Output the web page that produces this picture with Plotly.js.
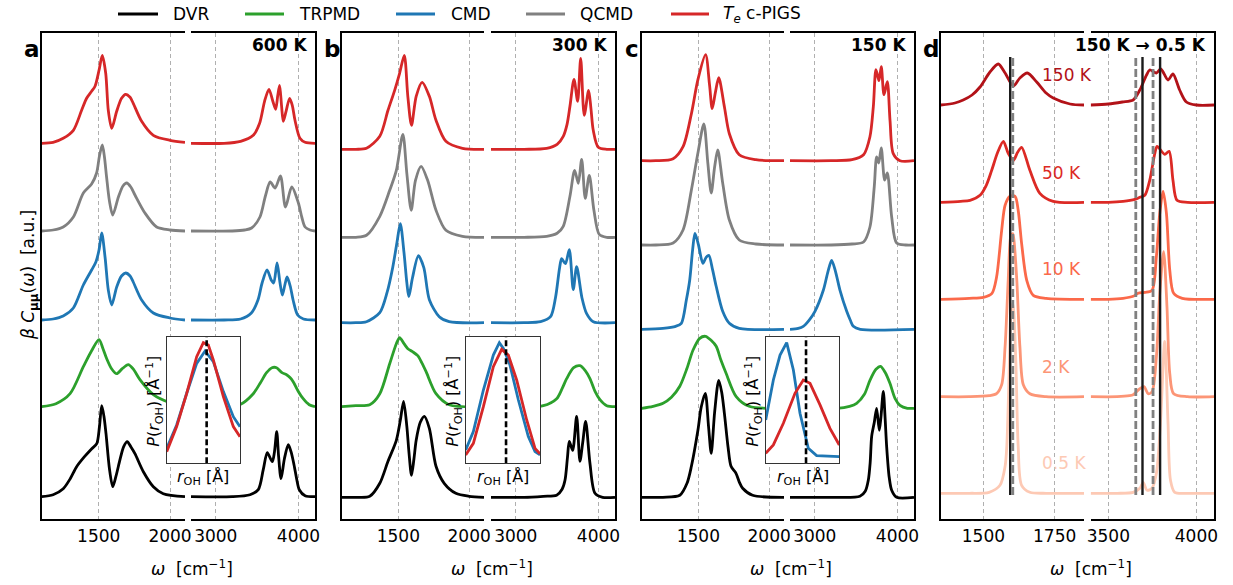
<!DOCTYPE html>
<html><head><meta charset="utf-8">
<script src="https://cdn.plot.ly/plotly-3.0.1.min.js"></script>
<style>html,body{margin:0;padding:0;background:#fff}#chart{width:1233px;height:585px}</style>
</head><body><div id="chart"></div>
<script>
// ===== DATA: [wavenumber cm^-1, intensity a.u.] =====
// Panel a (600 K)
const a_DVR_L = [[1100,0],[1180,2],[1251,8],[1300,18],[1345,30],[1400,40],[1451,48],[1486,53],[1505,70],[1521,91],[1537,80],[1551,63],[1575,28],[1598,10],[1620,20],[1649,37],[1675,50],[1700,55],[1725,50],[1754,43],[1813,25],[1883,10],[1953,3],[2105,0]];
const a_DVR_R = [[2700,0],[3200,0],[3414,2],[3514,7],[3574,27],[3623,44],[3683,35],[3710,45],[3737,65],[3760,40],[3789,18],[3830,38],[3877,52],[3910,45],[3946,32],[3980,17],[4010,7],[4080,1],[4200,0]];
const a_TRPMD_L = [[1100,0],[1200,3],[1299,13],[1392,40],[1450,56],[1502,67],[1530,58],[1556,48],[1590,38],[1626,33],[1665,38],[1707,42],[1740,38],[1789,27],[1883,12],[2000,4],[2105,1]];
const a_TRPMD_R = [[2700,0],[3100,0],[3290,2],[3453,13],[3540,24],[3614,34],[3680,39],[3735,39],[3800,34],[3856,32],[3900,29],[3936,25],[4000,15],[4057,8],[4130,2],[4200,0]];
const a_CMD_L = [[1100,0],[1180,1],[1251,4],[1322,12],[1392,35],[1450,50],[1480,58],[1502,70],[1521,87],[1545,62],[1567,30],[1591,15],[1626,33],[1660,44],[1689,47],[1720,44],[1742,38],[1801,20],[1883,7],[2000,2],[2105,0]];
const a_CMD_R = [[2700,0],[3100,0],[3300,1],[3430,7],[3510,20],[3560,37],[3620,50],[3670,40],[3700,37],[3741,57],[3775,38],[3805,25],[3835,35],[3862,43],[3900,34],[3935,20],[3990,5],[4060,1],[4200,0]];
const a_QCMD_L = [[1100,0],[1180,1],[1251,4],[1322,14],[1392,38],[1450,47],[1485,58],[1505,75],[1525,86],[1540,74],[1555,54],[1575,30],[1598,16],[1638,34],[1670,45],[1696,48],[1725,44],[1754,36],[1824,18],[1906,4],[2000,1],[2105,0]];
const a_QCMD_R = [[2700,0],[3200,0],[3350,1],[3433,3],[3534,14],[3600,35],[3658,49],[3718,43],[3782,55],[3843,24],[3919,44],[3999,28],[4040,14],[4080,4],[4140,1],[4200,0]];
const a_PIGS_L = [[1100,0],[1180,1],[1251,5],[1322,13],[1380,33],[1415,45],[1450,52],[1474,57],[1502,73],[1525,88],[1549,70],[1567,33],[1591,15],[1626,32],[1660,45],[1689,49],[1720,46],[1742,40],[1801,22],[1883,8],[2000,3],[2105,1]];
const a_PIGS_R = [[2700,0],[3100,0],[3300,2],[3453,8],[3530,20],[3590,42],[3643,54],[3690,42],[3724,34],[3750,48],[3772,58],[3795,38],[3816,22],[3850,32],[3893,45],[3925,38],[3958,23],[4018,5],[4080,1],[4200,0]];
// Panel b (300 K)
const b_DVR_L = [[1100,0],[1200,0],[1298,1],[1369,14],[1427,36],[1486,57],[1514,77],[1537,96],[1560,71],[1575,45],[1593,22],[1610,38],[1626,57],[1655,75],[1684,81],[1719,69],[1766,31],[1824,14],[1906,4],[2000,1],[2105,0]];
const b_DVR_R = [[2700,0],[3100,0],[3333,1],[3494,2],[3560,8],[3595,17],[3625,40],[3647,56],[3688,47],[3736,81],[3776,36],[3810,55],[3845,76],[3897,34],[3958,4],[4050,0],[4200,0]];
const b_TRPMD_L = [[1100,0],[1200,1],[1298,2],[1369,13],[1439,43],[1486,63],[1509,69],[1540,63],[1567,58],[1600,55],[1637,51],[1665,44],[1696,35],[1766,13],[1859,2],[2105,0]];
const b_TRPMD_R = [[2700,0],[3100,0],[3333,1],[3494,8],[3560,18],[3615,28],[3700,39],[3776,41],[3840,36],[3897,28],[3960,15],[4018,7],[4100,1],[4200,0]];
const b_CMD_L = [[1100,0],[1200,0],[1275,1],[1369,10],[1420,30],[1460,55],[1490,80],[1514,99],[1540,70],[1560,40],[1574,26],[1600,45],[1642,67],[1680,55],[1719,23],[1789,6],[1859,1],[2105,0]];
const b_CMD_R = [[2700,0],[3100,0],[3300,1],[3420,6],[3480,25],[3530,55],[3555,64],[3600,59],[3647,73],[3695,33],[3736,56],[3800,25],[3857,9],[3937,1],[4200,0]];
const b_QCMD_L = [[1100,0],[1200,0],[1275,2],[1369,21],[1439,47],[1486,67],[1532,103],[1560,64],[1591,27],[1621,57],[1661,71],[1707,57],[1766,27],[1836,7],[1953,1],[2105,0]];
const b_QCMD_R = [[2700,0],[3100,0],[3373,1],[3500,4],[3574,11],[3655,41],[3712,67],[3756,54],[3797,78],[3840,39],[3889,62],[3945,27],[4009,3],[4100,0],[4200,0]];
const b_PIGS_L = [[1100,0],[1200,0],[1275,1],[1369,13],[1427,39],[1474,59],[1509,76],[1542,94],[1567,53],[1593,24],[1626,53],[1668,67],[1719,53],[1766,29],[1836,8],[1953,1],[2105,0]];
const b_PIGS_R = [[2700,0],[3100,0],[3373,1],[3500,5],[3574,13],[3620,25],[3655,43],[3704,70],[3748,48],[3785,91],[3828,34],[3881,59],[3910,40],[3937,19],[3998,2],[4100,0],[4200,0]];
// Panel c (150 K)
const c_DVR_L = [[1100,0],[1250,0],[1369,2],[1420,14],[1451,31],[1497,67],[1520,90],[1549,104],[1572,71],[1591,44],[1615,85],[1644,117],[1665,105],[1684,84],[1710,50],[1731,31],[1766,24],[1790,15],[1813,9],[1883,2],[2105,0]];
const c_DVR_R = [[2700,0],[3200,0],[3546,1],[3610,6],[3647,17],[3670,35],[3688,61],[3720,75],[3748,89],[3780,67],[3800,80],[3829,106],[3850,80],[3869,51],[3900,20],[3930,7],[3990,0],[4200,0]];
const c_TRPMD_L = [[1100,0],[1180,2],[1251,5],[1310,11],[1369,22],[1420,40],[1462,58],[1510,70],[1551,72],[1590,68],[1626,62],[1660,48],[1696,35],[1766,12],[1859,2],[2105,0]];
const c_TRPMD_R = [[2700,0],[3265,0],[3420,2],[3506,5],[3600,14],[3667,28],[3740,39],[3796,42],[3850,36],[3909,25],[3970,10],[4030,3],[4120,0],[4200,0]];
const c_CMD_L = [[1100,0],[1250,1],[1340,3],[1380,6],[1415,29],[1439,49],[1460,80],[1476,96],[1500,85],[1532,66],[1555,72],[1574,74],[1600,60],[1626,43],[1672,18],[1719,6],[1789,1],[2105,0]];
const c_CMD_R = [[2700,0],[2800,1],[2861,3],[2930,9],[3002,18],[3103,39],[3160,58],[3204,69],[3250,58],[3305,39],[3386,18],[3430,9],[3466,3],[3550,0],[4200,0]];
const c_QCMD_L = [[1100,0],[1200,0],[1322,2],[1392,15],[1451,55],[1497,92],[1539,121],[1567,82],[1591,52],[1615,78],[1637,95],[1672,62],[1719,25],[1789,5],[1906,1],[2105,0]];
const c_QCMD_R = [[2700,0],[3200,0],[3450,1],[3590,3],[3667,18],[3719,58],[3748,88],[3773,82],[3804,97],[3845,65],[3877,72],[3930,28],[3990,2],[4100,0],[4200,0]];
const c_PIGS_L = [[1100,0],[1200,0],[1322,2],[1392,14],[1451,47],[1497,81],[1551,106],[1579,76],[1598,52],[1620,68],[1644,83],[1684,54],[1719,27],[1789,6],[1906,1],[2105,0]];
const c_PIGS_R = [[2700,0],[3200,0],[3450,1],[3590,6],[3667,24],[3708,54],[3740,91],[3776,80],[3804,94],[3837,66],[3877,79],[3910,40],[3949,7],[4030,0],[4200,0]];
// Panel d (c-PIGS, 150 K -> 0.5 K)
const d_150_L = [[1350,0],[1400,2],[1429,5],[1460,10],[1488,18],[1523,33],[1552,41],[1576,32],[1605,19],[1628,27],[1654,32],[1687,23],[1720,12],[1745,7],[1804,1],[1853,0]];
const d_150_R = [[3400,0],[3500,1],[3580,3],[3641,5],[3679,15],[3717,30],[3735,35],[3773,32],[3798,36],[3839,25],[3867,31],[3905,15],[3943,3],[4000,0],[4100,0]];
const d_50_L = [[1350,0],[1420,1],[1453,2],[1488,7],[1510,17],[1529,32],[1550,50],[1570,61],[1587,49],[1605,42],[1620,50],[1634,55],[1663,32],[1698,9],[1745,1],[1853,0]];
const d_50_R = [[3400,0],[3500,0],[3584,1],[3651,3],[3679,5],[3707,7],[3735,22],[3764,49],[3777,56],[3820,48],[3845,51],[3867,22],[3890,2],[3950,0],[4100,0]];
const d_10_L = [[1350,0],[1450,1],[1500,2],[1530,6],[1546,22],[1564,69],[1576,94],[1593,103],[1611,103],[1622,89],[1634,56],[1652,19],[1675,4],[1720,1],[1853,0]];
const d_10_R = [[3400,0],[3500,0],[3584,1],[3641,3],[3669,6],[3707,7],[3748,9],[3773,43],[3792,86],[3811,108],[3830,86],[3849,29],[3871,6],[3920,1],[4100,0]];
const d_2_L = [[1350,0],[1450,0],[1520,1],[1546,3],[1564,12],[1576,50],[1587,117],[1596,160],[1603,163],[1607,157],[1617,117],[1628,50],[1640,12],[1663,3],[1720,0],[1853,0]];
const d_2_R = [[3400,0],[3550,0],[3620,1],[3641,2],[3679,8],[3703,10],[3726,3],[3748,5],[3773,40],[3792,103],[3814,145],[3833,90],[3849,23],[3871,3],[3950,0],[4100,0]];
const d_05_L = [[1350,0],[1450,0],[1520,1],[1558,8],[1576,27],[1582,47],[1591,130],[1597,183],[1603,190],[1607,180],[1614,130],[1622,47],[1634,8],[1663,1],[1720,0],[1853,0]];
const d_05_R = [[3400,0],[3550,0],[3641,1],[3679,5],[3698,11],[3720,3],[3748,5],[3773,20],[3796,70],[3820,152],[3839,70],[3853,13],[3877,1],[3950,0],[4100,0]];
// Reference frequencies in panel d
const d_solid_x = [1594, 3694, 3794];
const d_dashed_x = [1603, 3656, 3754];
// Baselines (vertical stacking) of spectra: DVR, TRPMD, CMD, QCMD, PIGS
const a_base = [22.3, 112.3, 199, 288, 375.7];
const b_base = [21.7, 112.3, 196.3, 281.7, 369.7];
const c_base = [21.7, 110.7, 189.7, 274, 358.3];
const d_base = [414, 316.7, 219.7, 122.3, 25.7]; // 150,50,10,2,0.5 K
// Insets: P(r_OH) (normalised r, normalised P)
const ia_CMD = [[0,0.118],[0.136,0.303],[0.273,0.553],[0.409,0.789],[0.523,0.887],[0.636,0.803],[0.773,0.566],[0.909,0.368],[1,0.289]];
const ia_PIGS = [[0,0.092],[0.136,0.29],[0.273,0.553],[0.409,0.842],[0.5,0.953],[0.568,0.934],[0.636,0.816],[0.773,0.526],[0.909,0.29],[1,0.21]];
const ib_CMD = [[0,0.105],[0.103,0.25],[0.238,0.579],[0.372,0.855],[0.453,0.953],[0.507,0.908],[0.596,0.776],[0.709,0.5],[0.843,0.211],[0.933,0.092],[1,0.066]];
const ib_PIGS = [[0,0.066],[0.103,0.158],[0.238,0.447],[0.372,0.763],[0.484,0.9],[0.574,0.855],[0.686,0.658],[0.821,0.342],[0.933,0.118],[1,0.074]];
const ic_CMD = [[0,0.342],[0.104,0.658],[0.195,0.855],[0.285,0.953],[0.376,0.737],[0.466,0.395],[0.579,0.118],[0.692,0.061],[1,0.053]];
const ic_PIGS = [[0,0.079],[0.104,0.145],[0.24,0.316],[0.398,0.553],[0.511,0.658],[0.602,0.632],[0.738,0.461],[0.873,0.276],[1,0.145]];
const inset_ref = [0.545, 0.543, 0.548];
// Labels
const methodNames = ['DVR','TRPMD','CMD','QCMD','<i>T</i><sub><i>e</i></sub> c-PIGS'];
const tempLabels = ['600 K','300 K','150 K','150 K → 0.5 K'];
const dTempLabels = ['150 K','50 K','10 K','2 K','0.5 K'];
const tickL = [[1500,2000],[1500,2000],[1500,2000],[1500,1750]];
const tickR = [[3000,4000],[3000,4000],[3000,4000],[3500,4000]];

// ===== STYLE / LAYOUT =====
const W = 1233, H = 585;
const FONT = 'DejaVu Sans, sans-serif';
const mColors = ['#000000','#2ca02c','#1f77b4','#808080','#d62728'];
const dColors = ['#b21218','#dc2a25','#fb694a','#fc9576','#fdc9b4'];
const fx = p => p / W, fy = p => 1 - p / H;
const yTop = 33, yBot = 519, yRange = [0, yBot - yTop];
const geom = [
  {L:[41.7,185], R:[191,315], rL:[1100,2105], rR:[2700,4200]},
  {L:[341.7,484], R:[491,615], rL:[1100,2105], rR:[2700,4200]},
  {L:[641.7,784], R:[790,914], rL:[1100,2105], rR:[2700,4200]},
  {L:[940.7,1084], R:[1090.7,1214], rL:[1350,1853], rR:[3400,4100]}
];
const insetGeom = [[166.7,240],[465.7,540],[765.7,839.3]];
const insetY = [336.7, 463.3];
const LW = 2.8;

const layout = {width:W, height:H, margin:{l:0,r:0,t:0,b:0}, paper_bgcolor:'#fff', plot_bgcolor:'#fff',
  showlegend:false, font:{family:FONT, size:17, color:'#000'}, shapes:[], annotations:[]};
const traces = [];
let n = 0;
function addAxes(xpx, ypx, xr, yr, kind, tick, side) {
  n++;
  const s = n === 1 ? '' : String(n);
  const xa = {domain:[fx(xpx[0]), fx(xpx[1])], range:xr, anchor:'y'+s, zeroline:false, fixedrange:true};
  const ya = {domain:[fy(ypx[1]), fy(ypx[0])], range:yr, anchor:'x'+s, zeroline:false, fixedrange:true,
    showticklabels:false, ticks:'', showgrid:false};
  if (kind === 'main') {
    Object.assign(xa, {showline:true, mirror:true, linewidth:2.4, linecolor:'#000', ticks:'',
      tickmode:'array', tickvals:tick, ticktext:tick.map(String), showgrid:true, gridcolor:'#b0b0b0',
      gridwidth:1, griddash:'4px,3px', tickfont:{size:17, family:FONT, color:'#000'}, ticklabelstandoff:0});
    Object.assign(ya, {showline:true, mirror:false, side:side, linewidth:2.4, linecolor:'#000'});
  } else {
    Object.assign(xa, {showline:true, mirror:true, linewidth:1.2, linecolor:'#333', ticks:'', showticklabels:false, showgrid:false});
    Object.assign(ya, {showline:true, mirror:true, linewidth:1.2, linecolor:'#333'});
  }
  layout['xaxis'+s] = xa; layout['yaxis'+s] = ya;
  return {x:'x'+s, y:'y'+s};
}
function addSpec(seg, base, color, ax) {
  traces.push({x:seg.map(p=>p[0]), y:seg.map(p=>p[1]+base), mode:'lines', xaxis:ax.x, yaxis:ax.y,
    line:{color:color, width:LW, shape:'spline', smoothing:0.8}, hoverinfo:'skip'});
}
const specs = [
  [[a_DVR_L,a_DVR_R],[a_TRPMD_L,a_TRPMD_R],[a_CMD_L,a_CMD_R],[a_QCMD_L,a_QCMD_R],[a_PIGS_L,a_PIGS_R]],
  [[b_DVR_L,b_DVR_R],[b_TRPMD_L,b_TRPMD_R],[b_CMD_L,b_CMD_R],[b_QCMD_L,b_QCMD_R],[b_PIGS_L,b_PIGS_R]],
  [[c_DVR_L,c_DVR_R],[c_TRPMD_L,c_TRPMD_R],[c_CMD_L,c_CMD_R],[c_QCMD_L,c_QCMD_R],[c_PIGS_L,c_PIGS_R]],
  [[d_150_L,d_150_R],[d_50_L,d_50_R],[d_10_L,d_10_R],[d_2_L,d_2_R],[d_05_L,d_05_R]]
];
const bases = [a_base, b_base, c_base, d_base];
const letters = ['a','b','c','d'];
const mainAx = [];
geom.forEach((g, p) => {
  const axL = addAxes(g.L, [yTop,yBot], g.rL, yRange, 'main', tickL[p], 'left');
  const axR = addAxes(g.R, [yTop,yBot], g.rR, yRange, 'main', tickR[p], 'right');
  mainAx.push([axL, axR]);
  specs[p].forEach((sp, i) => {
    const col = p < 3 ? mColors[i] : dColors[i];
    addSpec(sp[0], bases[p][i], col, axL);
    addSpec(sp[1], bases[p][i], col, axR);
  });
  layout.annotations.push({xref:'paper', yref:'paper', x:fx(g.L[0]-10), y:fy(49), xanchor:'center', yanchor:'middle',
    text:'<b>'+letters[p]+'</b>', showarrow:false, font:{size:23, family:FONT, color:'#000'}});
  layout.annotations.push({xref:'paper', yref:'paper', x:fx(g.R[1]-6), y:fy(45), xanchor:'right', yanchor:'middle',
    text:'<b>'+tempLabels[p]+'</b>', showarrow:false, font:{size:17, family:FONT, color:'#000'}});
  layout.annotations.push({xref:'paper', yref:'paper', x:fx((g.L[1]+g.R[0])/2+4), y:fy(568), xanchor:'center', yanchor:'middle',
    text:'<i>ω</i>\u00a0\u00a0[cm<sup>−1</sup>]', showarrow:false, font:{size:17, family:FONT, color:'#000'}});
});
// reference lines in panel d
const dAx = mainAx[3];
d_solid_x.forEach(v => traces.push({x:[v,v], y:[24,462], mode:'lines', xaxis:(v<2500?dAx[0]:dAx[1]).x, yaxis:(v<2500?dAx[0]:dAx[1]).y,
  line:{color:'#1a1a1a', width:2.4}, hoverinfo:'skip'}));
d_dashed_x.forEach(v => traces.push({x:[v,v], y:[24,462], mode:'lines', xaxis:(v<2500?dAx[0]:dAx[1]).x, yaxis:(v<2500?dAx[0]:dAx[1]).y,
  line:{color:'#808080', width:2.8, dash:'8px,3px'}, hoverinfo:'skip'}));
// temperature labels in panel d
const dLabY = [75, 173, 269, 367, 463];
dTempLabels.forEach((t, i) => layout.annotations.push({xref:'paper', yref:'paper', x:fx(1040), y:fy(dLabY[i]), xanchor:'left', yanchor:'middle',
  text:t, showarrow:false, font:{size:17, family:FONT, color:dColors[i]}}));
// insets
const insets = [[ia_CMD, ia_PIGS], [ib_CMD, ib_PIGS], [ic_CMD, ic_PIGS]];
insets.forEach((ins, k) => {
  const ax = addAxes(insetGeom[k], insetY, [0,1], [0,1], 'inset');
  [[ins[0], mColors[2]], [ins[1], mColors[4]]].forEach(([d, c]) => traces.push({x:d.map(p=>p[0]), y:d.map(p=>p[1]), mode:'lines',
    xaxis:ax.x, yaxis:ax.y, line:{color:c, width:LW}, hoverinfo:'skip'}));
  traces.push({x:[inset_ref[k], inset_ref[k]], y:[0,1], mode:'lines', xaxis:ax.x, yaxis:ax.y,
    line:{color:'#000', width:2.6, dash:'6px,3px'}, hoverinfo:'skip'});
  const cx = (insetGeom[k][0]+insetGeom[k][1])/2;
  layout.annotations.push({xref:'paper', yref:'paper', x:fx(insetGeom[k][0]-13), y:fy(401), xanchor:'center', yanchor:'middle', textangle:-90,
    text:'<i>P</i>(<i>r</i><sub>OH</sub>) [Å<sup>−1</sup>]', showarrow:false, font:{size:16, family:FONT, color:'#000'}});
  layout.annotations.push({xref:'paper', yref:'paper', x:fx(cx), y:fy(477), xanchor:'center', yanchor:'middle',
    text:'<i>r</i><sub>OH</sub> [Å]', showarrow:false, font:{size:16, family:FONT, color:'#000'}});
});
// y title
layout.annotations.push({xref:'paper', yref:'paper', x:fx(29), y:fy(275), xanchor:'center', yanchor:'middle', textangle:-90,
  text:'<i>β C</i><sub><b>μμ</b></sub>(<i>ω</i>)\u00a0\u00a0[a.u.]', showarrow:false, font:{size:17, family:FONT, color:'#000'}});
// legend
const legLine = [[118,158],[245,284],[396,435],[526,565],[671,709]];
const legText = [171, 297, 449, 578, 721];
const legY = 14;
methodNames.forEach((m, i) => {
  layout.shapes.push({type:'line', xref:'paper', yref:'paper', x0:fx(legLine[i][0]), x1:fx(legLine[i][1]), y0:fy(legY), y1:fy(legY),
    line:{color:mColors[i], width:3}});
  layout.annotations.push({xref:'paper', yref:'paper', x:fx(legText[i]), y:fy(legY), xanchor:'left', yanchor:'middle',
    text:m, showarrow:false, font:{size:17, family:FONT, color:'#000'}});
});
Plotly.newPlot('chart', traces, layout, {displayModeBar:false});
</script></body></html>
